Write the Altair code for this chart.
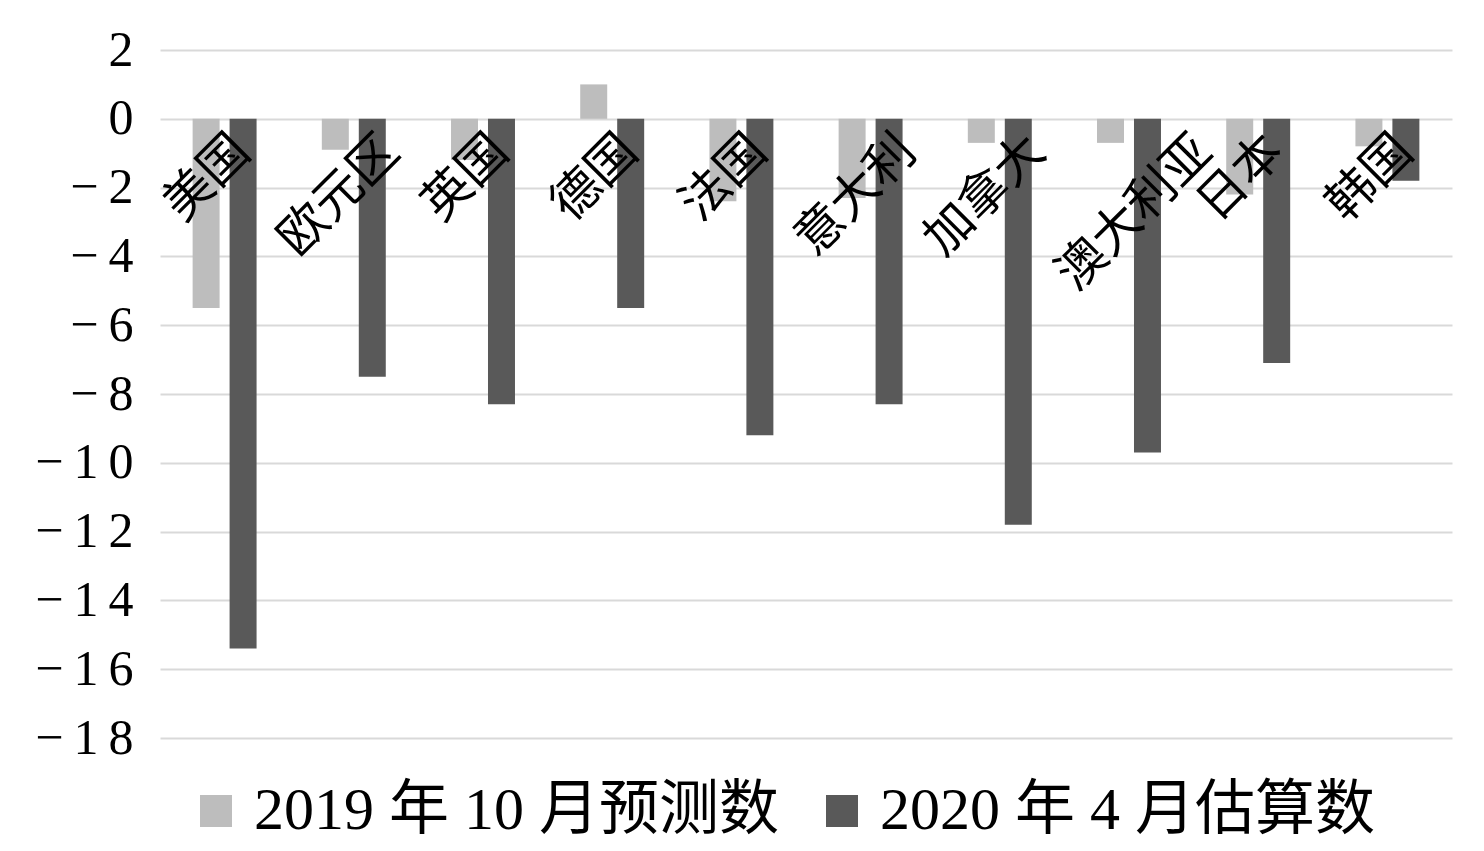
import altair as alt
import pandas as pd

categories = ["美国", "欧元区", "英国", "德国", "法国", "意大利", "加拿大", "澳大利亚", "日本", "韩国"]
series_names = ["2019 年 10 月预测数", "2020 年 4 月估算数"]
oct2019 = [-5.5, -0.9, -1.2, 1.0, -2.4, -2.3, -0.7, -0.7, -2.2, -0.8]
apr2020 = [-15.4, -7.5, -8.3, -5.5, -9.2, -8.3, -11.8, -9.7, -7.1, -1.8]
y_ticks = list(range(-18, 3, 2))
colors = ["#bdbdbd", "#595959"]

rows = []
for c, a, b in zip(categories, oct2019, apr2020):
    rows.append({"country": c, "series": series_names[0], "value": a})
    rows.append({"country": c, "series": series_names[1], "value": b})
df = pd.DataFrame(rows)
lab = pd.DataFrame({"country": categories})

SERIF = "Liberation Serif, Noto Sans CJK SC"
CJK = "Noto Sans CJK SC"
LF = 49  # category label font size

x_scale = alt.Scale(domain=categories, paddingInner=0.505, paddingOuter=0.2525)
y_scale = alt.Scale(domain=[-18, 2], nice=False, zero=False)

label_expr = ("(datum.value < 0 ? '\u2212\u2009' : '') + "
              "(abs(datum.value) >= 10 ? floor(abs(datum.value)/10) + '\u2009' + (abs(datum.value) % 10) : abs(datum.value))")

bars = alt.Chart(df).mark_bar().encode(
    x=alt.X("country:N", scale=x_scale, sort=categories, axis=None),
    xOffset=alt.XOffset("series:N", sort=series_names, scale=alt.Scale(paddingInner=0.27, paddingOuter=0)),
    y=alt.Y("value:Q", scale=y_scale,
            axis=alt.Axis(values=y_ticks, title=None, domain=False, ticks=False,
                          labelFont="Liberation Serif", labelFontSize=50, labelColor="#000000",
                          labelPadding=27, labelExpr=label_expr,
                          grid=True, gridColor="#d9d9d9", gridWidth=2)),
    y2=alt.datum(0),
    color=alt.Color("series:N", sort=series_names,
                    scale=alt.Scale(domain=series_names, range=colors),
                    legend=alt.Legend(title=None, orient="none", direction="horizontal",
                                      legendX=26, legendY=731,
                                      symbolType="square", symbolSize=1024, symbolStrokeWidth=0,
                                      symbolOpacity=1,
                                      labelFont=SERIF, labelFontSize=60, labelColor="#000000",
                                      labelOffset=8, columnPadding=33, labelLimit=1000)),
)

def label_layer(n, shift):
    d = shift * 0.7071
    return alt.Chart(lab).transform_filter(f"length(datum.country) == {n}").mark_text(
        angle=315, align="right", baseline="middle", font=CJK, fontSize=LF, color="#000000",
        dx=LF / 2 + d, dy=d,
    ).encode(
        x=alt.X("country:N", scale=x_scale, sort=categories, axis=None),
        y=alt.datum(-1.22),
        text="country:N",
    )

chart = alt.layer(
    bars, label_layer(2, 0), label_layer(3, 20), label_layer(4, 58)
).properties(
    width=1292, height=688,
    background="#ffffff",
    autosize=alt.AutoSizeParams(type="none"),
    padding={"left": 152, "top": 42, "right": 20, "bottom": 105},
).configure_view(stroke=None, strokeWidth=0)

chart.save("out.html", embed_options={"renderer": "svg", "actions": False})
